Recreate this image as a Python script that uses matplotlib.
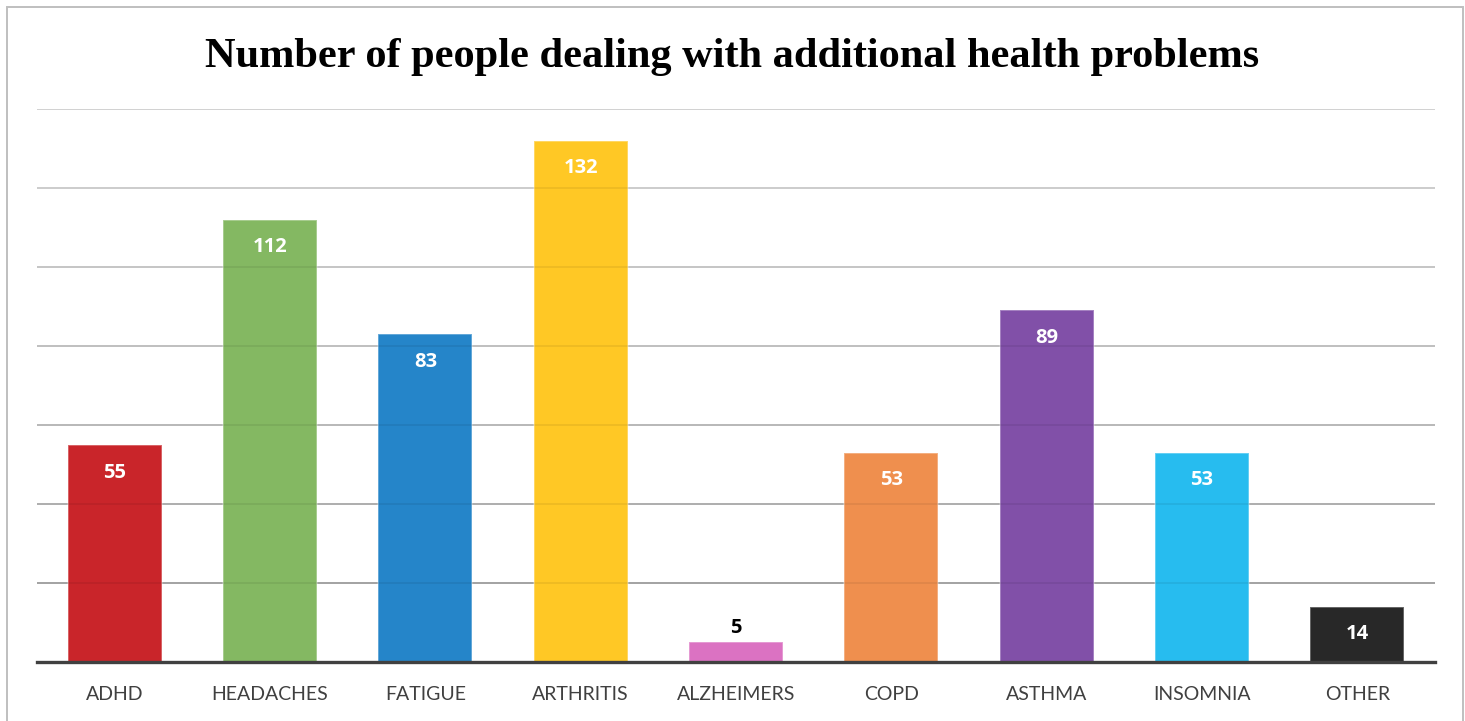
import matplotlib
matplotlib.use("Agg")
import matplotlib.pyplot as plt
from matplotlib.patches import Rectangle

categories = ["ADHD", "HEADACHES", "FATIGUE", "ARTHRITIS", "ALZHEIMERS",
              "COPD", "ASTHMA", "INSOMNIA", "OTHER"]
counts = [55, 112, 83, 132, 5, 53, 89, 53, 14]
colors = ["#c9252a", "#84b862", "#2585c9", "#ffc825", "#db72c2",
          "#ef8f4e", "#8150a8", "#27bcef", "#282828"]
grid_values = [20, 40, 60, 80, 100, 120, 140]
grid_colors = ["#a8a8a8", "#b4b4b4", "#c0c0c0", "#c8c8c8", "#d0d0d0", "#d8d8d8", "#dedede"]

fig = plt.figure(figsize=(14.65, 7.21), dpi=100)
fig.patch.set_facecolor("white")

# light frame around the whole chart
fig.add_artist(Rectangle((7 / 1465, -0.05), 1456 / 1465, 1.05 - 7 / 721,
                         transform=fig.transFigure, fill=False,
                         edgecolor="#bfbfbf", linewidth=1.4, clip_on=False))

ax = fig.add_axes([37 / 1465, 59 / 721, 1398 / 1465, 553 / 721])
x = range(len(categories))

for g, c in zip(grid_values, grid_colors):
    ax.axhline(g, color=c, linewidth=1.3, zorder=1)
    # faint line showing through the bars
    ax.axhline(g, color="black", alpha=0.07, linewidth=1.3, zorder=3)

bars = ax.bar(x, counts, width=0.605, color=colors,
              edgecolor=(1, 1, 1, 0.35), linewidth=1.2, zorder=2)

for bar, val in zip(bars, counts):
    cx = bar.get_x() + bar.get_width() / 2
    if val < 10:
        ax.annotate(str(val), (cx, val), xytext=(0, 10.5), textcoords="offset points",
                    ha="center", va="center", fontsize=14.5, fontweight="bold",
                    family="Open Sans", color="black", zorder=4)
    else:
        ax.annotate(str(val), (cx, val), xytext=(0, -20), textcoords="offset points",
                    ha="center", va="center", fontsize=14.5, fontweight="bold",
                    family="Open Sans", color="white", zorder=4)

ax.set_xlim(-0.5, len(categories) - 0.5)
ax.set_ylim(0, 140)
ax.set_yticks([])
ax.set_xticks(list(x))
ax.set_xticklabels(categories, family="Lato", fontsize=14, color="#404040")
ax.tick_params(axis="x", length=0, pad=17)

for side in ["top", "right", "left"]:
    ax.spines[side].set_visible(False)
ax.spines["bottom"].set_color("#404040")
ax.spines["bottom"].set_linewidth(2.4)
ax.spines["bottom"].set_zorder(5)

fig.text(0.5, 1 - 67 / 721, "Number of people dealing with additional health problems",
         ha="center", va="baseline", family="Liberation Serif", fontweight="bold",
         fontsize=30.5, color="black")

fig.savefig("out.png", dpi=100)
